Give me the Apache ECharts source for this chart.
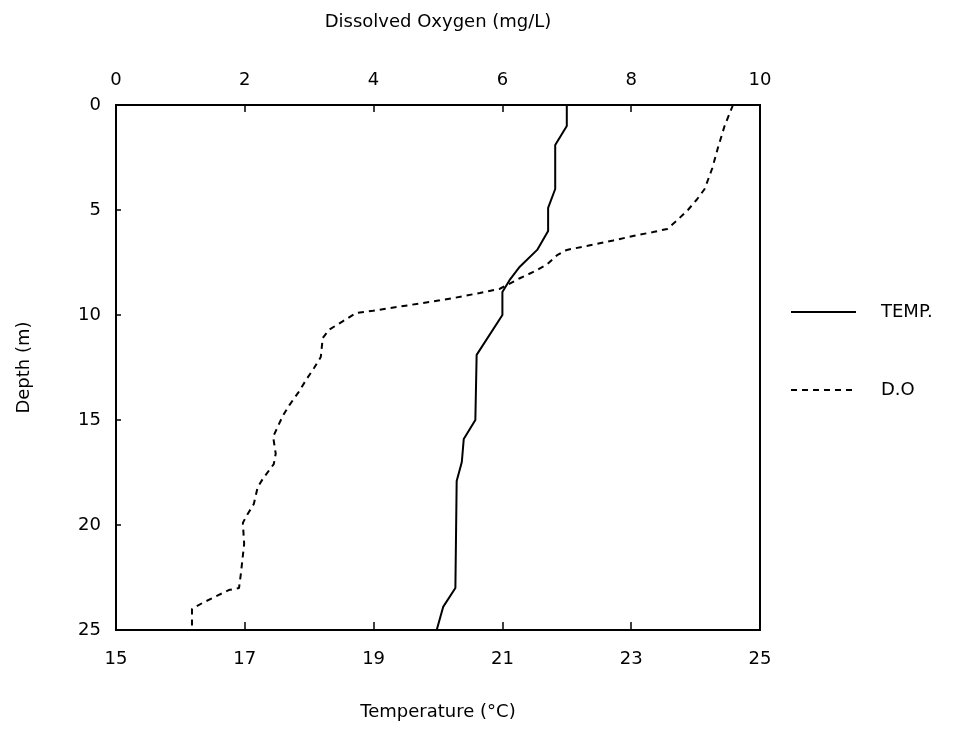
<!DOCTYPE html>
<html>
<head>
<meta charset="utf-8">
<script src="https://cdn.jsdelivr.net/npm/echarts@6/dist/echarts.min.js"></script>
<style>
  html, body { margin: 0; padding: 0; background: #fff; }
  #chart { width: 967px; height: 746px; }
</style>
</head>
<body>
<div id="chart"></div>
<script>
// temperature profile: depth (m) and temperature (°C)
const tempDepths = [0, 1, 1.9, 4, 4.9, 6, 6.9, 7.7, 8.3, 8.9, 10, 11.9, 15, 15.9, 17, 17.9, 23, 23.9, 25]
const tempValues = [22.0, 22.0, 21.82, 21.82, 21.71, 21.71, 21.54, 21.27, 21.12, 21.0, 21.0, 20.6, 20.58, 20.4, 20.37, 20.29, 20.27, 20.08, 19.98]
// dissolved oxygen profile: depth (m) and D.O (mg/L)
const doDepths = [0, 1, 2, 3, 4, 4.5, 5, 5.5, 5.9, 6.05, 6.2, 6.45, 6.75, 6.9, 7.15, 7.6, 7.95, 8.25, 8.75, 8.95, 9.2, 9.3, 9.8, 9.9, 10.3, 10.7, 11.1, 12.0, 12.5, 13.1, 13.7, 14.3, 14.8, 15.8, 16.6, 17.1, 17.8, 18.2, 19.0, 19.6, 19.9, 20.9, 22.3, 23.0, 23.1, 23.7, 24.0, 25]
const doValues = [9.58, 9.45, 9.35, 9.26, 9.14, 9.02, 8.88, 8.71, 8.56, 8.34, 8.09, 7.72, 7.25, 7.0, 6.85, 6.69, 6.48, 6.27, 5.96, 5.65, 5.23, 5.03, 3.99, 3.73, 3.52, 3.31, 3.21, 3.18, 3.08, 2.95, 2.83, 2.69, 2.59, 2.44, 2.48, 2.45, 2.28, 2.2, 2.14, 2.02, 1.97, 1.99, 1.94, 1.91, 1.75, 1.35, 1.18, 1.18]
// bottom axis labels / ticks (°C)
const tempLabels = [15, 17, 19, 21, 23, 25]
const tempTicks = [17, 19, 21, 23]

const font = 'DejaVu Sans, Liberation Sans, sans-serif'
const textStyle = { fontFamily: font, fontSize: 18, color: '#000' }
const chart = echarts.init(document.getElementById('chart'))

const option = {
  backgroundColor: '#fff',
  animation: false,
  grid: {
    left: 116,
    top: 105,
    width: 644,
    height: 525,
    show: true,
    borderColor: '#000',
    borderWidth: 2
  },
  legend: {
    orient: 'vertical',
    left: 790,
    top: 303,
    padding: 0,
    itemWidth: 65,
    itemHeight: 20,
    itemGap: 60,
    itemStyle: { opacity: 0 },
    textStyle: { ...textStyle, padding: [0, 0, 0, 20] },
    data: ['TEMP.', 'D.O']
  },
  xAxis: [
    {
      type: 'value',
      position: 'bottom',
      min: 15,
      max: 25,
      interval: 1,
      name: 'Temperature (°C)',
      nameLocation: 'middle',
      nameGap: 73,
      nameTextStyle: textStyle,
      axisLine: { onZero: false, lineStyle: { color: '#000', width: 2 } },
      axisTick: { show: true, inside: true, length: 8, lineStyle: { color: '#000', width: 1.5 }, customValues: tempTicks },
      axisLabel: { margin: 20, ...textStyle, customValues: tempLabels },
      splitLine: { show: false }
    },
    {
      type: 'value',
      position: 'top',
      min: 0,
      max: 10,
      interval: 2,
      name: 'Dissolved Oxygen (mg/L)',
      nameLocation: 'middle',
      nameGap: 74,
      nameTextStyle: textStyle,
      axisLine: { onZero: false, lineStyle: { color: '#000', width: 2 } },
      axisTick: { inside: true, length: 7, lineStyle: { color: '#000', width: 1.5 } },
      axisLabel: { margin: 16, ...textStyle },
      splitLine: { show: false }
    }
  ],
  yAxis: {
    type: 'value',
    inverse: true,
    min: 0,
    max: 25,
    interval: 5,
    name: 'Depth (m)',
    nameLocation: 'middle',
    nameGap: 83,
    nameRotate: 90,
    nameTextStyle: textStyle,
    axisLine: { show: true, onZero: false, lineStyle: { color: '#000', width: 2 } },
    axisTick: { show: true, inside: true, length: 5, lineStyle: { color: '#000', width: 1.5 } },
    axisLabel: { margin: 15, ...textStyle },
    splitLine: { show: false }
  },
  series: [
    {
      name: 'TEMP.',
      type: 'line',
      xAxisIndex: 0,
      symbol: 'none',
      lineStyle: { color: '#000', width: 2 },
      itemStyle: { color: '#000' },
      data: tempDepths.map((d, i) => [tempValues[i], d])
    },
    {
      name: 'D.O',
      type: 'line',
      xAxisIndex: 1,
      symbol: 'none',
      lineStyle: { color: '#000', width: 2, type: [6, 5] },
      itemStyle: { color: '#000' },
      data: doDepths.map((d, i) => [doValues[i], d])
    }
  ]
}
chart.setOption(option)
</script>
</body>
</html>
